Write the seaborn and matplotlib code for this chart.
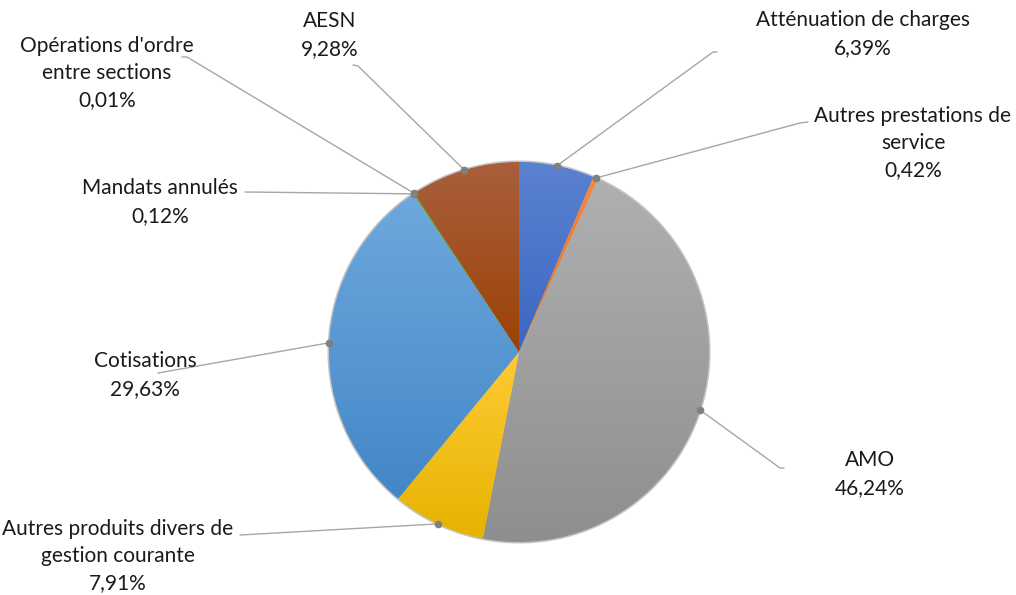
import numpy as np
import matplotlib.pyplot as plt
import matplotlib.colors as mcolors
import seaborn as sns

# données
categories = ["Atténuation de charges", "Autres prestations de\nservice", "AMO",
              "Autres produits divers de\ngestion courante", "Cotisations",
              "Mandats annulés", "Opérations d'ordre\nentre sections", "AESN"]
shares = [6.39, 0.42, 46.24, 7.91, 29.63, 0.12, 0.01, 9.28]

top_colors = ["#5B82D0", "#F08A45", "#B0B0B0", "#FFCA35", "#6EA8DD", "#70AD47", "#264478", "#A95F3D"]
bottom_colors = ["#3C67C2", "#E5711F", "#8E8E8E", "#E6B300", "#4387C8", "#5E9A38", "#1F3A68", "#9B4205"]

# position des étiquettes (pixels) et coude des lignes de rappel
label_pos = [(863, 34), (913, 143), (870, 474), (118, 556), (145, 375), (160, 202), (107, 73), (330, 35)]
leader_pts = [[(713, 52), (717, 52)], [(800, 123), (808, 122)], [(780, 468), (784, 468)],
              [(240, 535)], [(158, 373)], [(245, 192)], [(187, 57), (182, 57)], [(358, 66), (353, 65)]]

W, H = 1016, 595
def py(y):
    return H - y

sns.set_style("white")
plt.rcParams['font.family'] = ['Lato', 'DejaVu Sans']

fig = plt.figure(figsize=(W / 100, H / 100), dpi=100)
ax = fig.add_axes([0, 0, 1, 1])

cx, cy, r = 519, py(352), 190
palette = sns.color_palette(top_colors)
wedges, _ = ax.pie(shares, colors=palette, startangle=90, counterclock=False,
                   center=(cx, cy), radius=r, wedgeprops=dict(linewidth=0))

# dégradé vertical dans chaque part
for w, c1, c2 in zip(wedges, top_colors, bottom_colors):
    v = w.get_path().vertices
    x0, x1 = v[:, 0].min(), v[:, 0].max()
    y0, y1 = v[:, 1].min(), v[:, 1].max()
    if x1 - x0 < 2 or y1 - y0 < 2:
        continue
    t = np.linspace(0, 1, 200)[:, None]
    a = np.array(mcolors.to_rgb(c2))
    b = np.array(mcolors.to_rgb(c1))
    grad = (a + (b - a) * t)[:, None, :]
    im = ax.imshow(grad, extent=[x0, x1, y0, y1], origin='lower', aspect='auto',
                   interpolation='bilinear', zorder=2)
    im.set_clip_path(w)

# liseré léger autour du camembert
ax.add_patch(plt.Circle((cx, cy), r + 0.5, fill=False, ec="#c4c4c4", lw=1.5, zorder=1))

cum = np.cumsum(shares) - np.array(shares) / 2
for i, name in enumerate(categories):
    ang = np.deg2rad(90 - 360 * cum[i] / 100)
    dx, dy = cx + r * np.cos(ang), cy + r * np.sin(ang)
    xs = [dx] + [p[0] for p in leader_pts[i]]
    ys = [dy] + [py(p[1]) for p in leader_pts[i]]
    ax.plot(xs, ys, color="#a6a6a6", lw=1, zorder=3)
    ax.plot(dx, dy, 'o', color="#808080", ms=4.5, zorder=4)
    txt = f"{name}\n{shares[i]:.2f}%".replace(".", ",")
    ax.text(label_pos[i][0], py(label_pos[i][1]), txt, ha='center', va='center',
            multialignment='center', fontsize=15, color="#1a1a1a", linespacing=1.45)

ax.set_xlim(0, W)
ax.set_ylim(0, H)
ax.set_aspect('equal')
ax.axis('off')

fig.savefig("out.png", dpi=100, facecolor="white")
